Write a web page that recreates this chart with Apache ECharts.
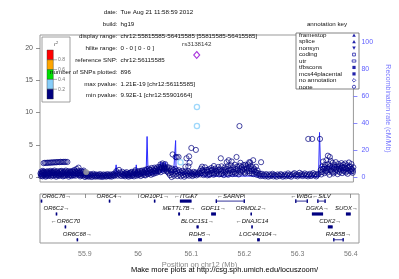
<!DOCTYPE html>
<html><head><meta charset="utf-8">
<script src="https://cdn.jsdelivr.net/npm/echarts@6/dist/echarts.min.js"></script>
<style>html,body{margin:0;padding:0;background:#fff}#c{width:399px;height:279px}</style>
</head><body><div id="c"></div>
<script>
// ---------- axes ----------
const xMin = 55.815585, xMax = 56.415585;
const xTicks = [55.9, 56.0, 56.1, 56.2, 56.3, 56.4];
const pTicks = [0, 5, 10, 15, 20];
const recombTicks = [0, 20, 40, 60, 80, 100];

// ---------- SNPs: [position Mb, -log10 p] ----------
const snpBandLeft = [[55.8165,0.55],[55.8172,0.15],[55.8180,0.85],[55.8188,0.40],[55.8195,0.70],[55.8203,0.10],[55.8211,0.95],[55.8220,0.35],[55.8228,0.60],[55.8236,0.20],[55.8245,0.80],[55.8255,0.45],[55.8265,0.05],[55.8274,0.75],[55.8283,0.30],[55.8293,0.90],[55.8302,0.50],[55.8312,0.15],[55.8322,0.65],[55.8332,0.85],[55.8342,0.25],[55.8352,0.55],[55.8362,0.95],[55.8372,0.10],[55.8382,0.70],[55.8392,0.40],[55.8402,0.80],[55.8413,0.20],[55.8423,0.60],[55.8433,1.00],[55.8444,0.35],[55.8455,0.75],[55.8465,0.05],[55.8476,0.50],[55.8486,0.90],[55.8497,0.30],[55.8508,0.65],[55.8519,0.15],[55.8530,0.85],[55.8541,0.45],[55.8552,0.70],[55.8563,0.25],[55.8574,0.95],[55.8585,0.55],[55.8596,0.10],[55.8607,0.80],[55.8618,0.40],[55.8629,0.65],[55.8640,0.20],[55.8651,1.00],[55.8662,0.50],[55.8673,0.75],[55.8684,0.30],[55.8695,0.90],[55.8706,0.05],[55.8717,0.60],[55.8728,0.85],[55.8739,0.35],[55.8750,0.70],[55.8761,0.15],[55.8772,0.95],[55.8783,0.45],[55.8794,0.80],[55.8805,0.25],[55.8816,1.10],[55.8827,0.55],[55.8838,0.20],[55.8849,0.75],[55.8860,1.25],[55.8871,0.40],[55.8882,0.65],[55.8893,1.45],[55.8904,0.30],[55.8915,0.85],[55.8926,0.10],[55.8937,0.60],[55.8948,0.95],[55.8959,0.35],[55.8970,0.70],[55.8981,0.20],[55.8992,1.00],[55.9003,0.50],[55.9017,0.0035],[55.9025,0.25],[55.9036,0.55],[55.9047,0.15]];
const snpExtraLeft = [[55.8176,0.45],[55.8192,0.25],[55.8207,0.65],[55.8224,0.80],[55.8240,0.40],[55.8259,0.60],[55.8278,0.20],[55.8297,0.70],[55.8317,0.35],[55.8337,0.50],[55.8357,0.75],[55.8377,0.30],[55.8397,0.60],[55.8418,0.85],[55.8438,0.45],[55.8460,0.25],[55.8481,0.70],[55.8502,0.55],[55.8524,0.35],[55.8546,0.90],[55.8568,0.40],[55.8590,0.65],[55.8612,0.20],[55.8634,0.85],[55.8656,0.35],[55.8678,0.60],[55.8700,0.45],[55.8722,0.25],[55.8744,0.80],[55.8766,0.55],[55.8788,0.30],[55.8810,0.70],[55.8832,0.90],[55.8854,0.45],[55.8876,0.95],[55.8898,0.60],[55.8920,0.40],[55.8942,0.25],[55.8964,0.55],[55.8986,0.80],[55.9008,0.35]];
const snpRowLeft = [[55.8225,2.15],[55.8250,2.20],[55.8275,2.18],[55.8300,2.22],[55.8325,2.20],[55.8350,2.25],[55.8375,2.22],[55.8400,2.28],[55.8425,2.25],[55.8450,2.30],[55.8475,2.28],[55.8500,2.32],[55.8525,2.30],[55.8550,2.35],[55.8575,2.32],[55.8600,2.35],[55.8625,2.33],[55.8650,2.35],[55.8680,2.33]];
const snpBandMid = [[55.9060,0.40],[55.9072,0.10],[55.9085,0.30],[55.9098,0.05],[55.9110,0.45],[55.9123,0.20],[55.9136,0.35],[55.9149,0.00],[55.9162,0.25],[55.9175,0.50],[55.9188,0.15],[55.9201,0.30],[55.9214,0.05],[55.9227,0.40],[55.9240,0.20],[55.9253,0.10],[55.9266,0.35],[55.9279,0.25],[55.9292,0.05],[55.9305,0.45],[55.9318,0.15],[55.9331,0.30],[55.9344,0.00],[55.9357,0.20],[55.9370,0.40],[55.9383,0.10],[55.9396,0.25],[55.9409,0.35],[55.9422,0.05],[55.9435,0.20],[55.9448,0.45],[55.9461,0.15],[55.9474,0.30],[55.9487,0.10],[55.9500,0.40],[55.9513,0.20],[55.9526,0.05],[55.9539,0.35],[55.9552,0.25],[55.9565,0.50],[55.9578,0.15],[55.9591,0.30],[55.9604,0.60],[55.9617,0.90],[55.9630,0.40],[55.9643,0.20],[55.9656,0.55],[55.9669,1.10],[55.9682,0.35],[55.9695,0.70],[55.9708,0.15],[55.9721,0.45],[55.9734,0.80],[55.9747,0.30]];
const snpBandCenter = [[55.9760,0.20],[55.9773,0.55],[55.9786,0.10],[55.9799,0.40],[55.9812,0.75],[55.9825,0.25],[55.9838,0.50],[55.9851,0.05],[55.9864,0.35],[55.9877,0.65],[55.9890,0.15],[55.9903,0.45],[55.9916,0.80],[55.9929,0.30],[55.9942,0.55],[55.9955,0.10],[55.9968,0.70],[55.9981,1.05],[55.9994,0.40],[56.0007,0.20],[56.0020,0.60],[56.0033,0.85],[56.0046,0.30],[56.0059,0.50],[56.0072,0.95],[56.0085,0.15],[56.0098,0.65],[56.0111,1.00],[56.0124,0.35],[56.0137,0.80],[56.0150,0.55],[56.0163,1.10],[56.0176,0.25],[56.0189,0.70],[56.0202,1.20],[56.0215,0.45],[56.0228,0.90],[56.0241,1.30],[56.0254,0.60],[56.0267,1.05],[56.0280,0.35],[56.0293,1.40],[56.0306,0.80],[56.0319,1.15],[56.0332,0.50],[56.0345,1.45],[56.0358,0.95],[56.0371,1.25],[56.0384,0.65],[56.0397,1.50],[56.0410,1.10],[56.0423,0.85],[56.0436,1.55],[56.0449,1.30],[56.0462,1.95],[56.0475,1.60],[56.0488,1.40],[56.0501,2.10],[56.0514,1.75],[56.0527,1.50],[56.0540,1.25],[56.0553,2.00],[56.0566,1.35],[56.0579,0.90],[56.0592,1.55]];
const snpExtraCenter = [[55.9767,0.35],[55.9793,0.60],[55.9818,0.45],[55.9844,0.25],[55.9870,0.55],[55.9896,0.70],[55.9922,0.20],[55.9948,0.40],[55.9974,0.85],[56.0000,0.55],[56.0026,0.35],[56.0052,0.70],[56.0078,0.45],[56.0104,0.85],[56.0130,0.60],[56.0156,0.30],[56.0182,0.95],[56.0208,0.70],[56.0234,0.50],[56.0260,1.10],[56.0286,0.75],[56.0312,0.55],[56.0338,1.00],[56.0364,0.70],[56.0390,1.20],[56.0416,0.90],[56.0442,1.05],[56.0468,0.75],[56.0494,1.20],[56.0520,0.95],[56.0546,1.45],[56.0572,1.10],[56.0598,0.80]];
const snpNearRef = [[56.0605,1.20],[56.0618,0.60],[56.0631,1.45],[56.0644,0.30],[56.0657,1.00],[56.0670,0.75],[56.0683,1.30],[56.0696,0.45],[56.0709,1.10],[56.0722,0.20],[56.0735,0.85],[56.0748,1.25],[56.0761,0.50],[56.0774,0.95],[56.0787,0.15],[56.0800,0.70],[56.0813,1.05],[56.0826,0.35],[56.0839,0.80],[56.0852,0.10],[56.0865,0.60],[56.0878,0.95],[56.0891,0.30],[56.0904,0.75],[56.0917,0.05],[56.0930,0.50],[56.0943,0.85],[56.0956,0.25],[56.0969,0.65],[56.0982,0.40],[56.0995,0.90],[56.1008,0.20],[56.1021,0.55],[56.1034,0.75],[56.1047,0.35],[56.1060,0.60],[56.1073,0.15],[56.1086,0.45],[56.1099,0.80],[56.1112,0.30],[56.1125,0.55],[56.1138,0.70],[56.1151,0.25],[56.1164,0.50],[56.1177,0.40],[56.1190,0.65],
  [56.0695,3.50],[56.0752,3.10],[56.0775,3.05],[56.0808,3.10],[56.0940,1.60],[56.0960,2.90],[56.0996,1.65],[56.1010,3.20],[56.1020,2.20],[56.1053,4.50],[56.1140,4.20],[56.0676,0.00]];
const snpRight1 = [[56.1210,0.90],[56.1225,0.40],[56.1240,1.30],[56.1255,0.65],[56.1270,1.10],[56.1285,0.30],[56.1300,0.85],[56.1315,1.50],[56.1330,0.55],[56.1345,1.05],[56.1360,0.25],[56.1375,0.75],[56.1390,1.20],[56.1405,0.45],[56.1420,0.95],[56.1435,1.40],[56.1450,0.60],[56.1465,1.15],[56.1480,0.35],[56.1495,0.80],[56.1510,1.30],[56.1525,0.50],[56.1540,1.00],[56.1555,0.70],[56.1570,1.55],[56.1585,0.40],[56.1600,1.20],[56.1615,0.85],[56.1630,1.65],[56.1645,0.55],[56.1660,1.10],[56.1675,0.30],[56.1690,1.45],[56.1705,0.75],[56.1720,1.25],[56.1735,0.50],[56.1750,1.70],[56.1765,0.95],[56.1780,1.35],[56.1795,0.60],[56.1810,1.80],[56.1825,1.05],[56.1840,0.45],[56.1855,1.50],[56.1870,0.80],[56.1885,1.90],[56.1900,1.20],[56.1915,0.65],[56.1930,1.60],[56.1945,1.00],[56.1960,0.40],[56.1975,1.75],[56.1990,1.25],[56.2005,0.70],[56.2020,1.55],[56.2035,0.95],[56.2050,1.85],[56.2065,1.30],[56.2080,0.55],[56.2095,1.65],[56.2110,1.10],[56.2125,0.85],[56.2140,1.95],[56.2155,1.40],[56.2170,0.60],[56.2185,1.70],[56.2200,1.20],[56.2215,0.90],[56.2230,1.50],[56.2245,0.45],[56.2260,1.25],[56.2275,0.80],[56.2290,1.60],[56.2305,0.35],[56.2320,1.00],[56.2335,0.60],[56.2350,0.25],[56.2365,0.50],[56.2380,0.15],
  [56.1617,2.90],[56.1485,1.70],[56.1730,2.30],[56.1767,2.60],[56.1824,2.40],[56.1918,3.10],[56.1974,7.90],[56.2162,2.30],[56.2388,2.30],[56.2087,1.90],[56.2237,2.60],[56.1353,1.10],[56.1259,1.60],[56.1993,2.20],[56.2181,2.25]];
const snpExtraRight = [[56.1218,0.60],[56.1262,0.95],[56.1308,0.45],[56.1352,0.80],[56.1398,0.30],[56.1442,1.05],[56.1488,0.55],[56.1532,0.85],[56.1578,1.10],[56.1622,0.45],[56.1668,0.80],[56.1712,1.00],[56.1758,0.35],[56.1802,1.15],[56.1848,0.75],[56.1892,0.50],[56.1938,1.30],[56.1982,0.85],[56.2028,1.10],[56.2072,0.75],[56.2118,1.40],[56.2162,0.95],[56.2208,0.55],[56.2252,1.05],[56.2298,0.70],[56.3536,0.75],[56.3572,1.25],[56.3608,1.55],[56.3644,0.95],[56.3680,1.50],[56.3716,1.10],[56.3752,0.75],[56.3788,1.60],[56.3824,1.35],[56.3860,0.95],[56.3896,1.25],[56.3932,1.60],[56.3968,1.10],[56.4004,1.35],[56.4040,0.95],[56.4076,1.60],[56.4112,1.25],[56.4148,0.95]];
const snpLow = [[56.2405,0.50],[56.2425,0.20],[56.2445,0.35],[56.2465,0.10],[56.2485,0.45],[56.2505,0.25],[56.2525,0.05],[56.2545,0.40],[56.2565,0.15],[56.2585,0.30],[56.2605,0.50],[56.2625,0.10],[56.2645,0.35],[56.2665,0.20],[56.2685,0.05],[56.2705,0.40],[56.2725,0.25],[56.2745,0.15],[56.2765,0.45],[56.2785,0.30],[56.2805,0.05],[56.2825,0.20],[56.2845,0.40],[56.2865,0.10],[56.2885,0.30],[56.2905,0.55],[56.2925,0.15],[56.2945,0.35],[56.2965,0.05],[56.2985,0.25],[56.3005,0.45],[56.3025,0.60],[56.3045,0.20],[56.3065,0.40],[56.3085,0.10],[56.3105,0.30],[56.3125,0.65],[56.3145,0.25],[56.3165,0.45],[56.3185,0.15],[56.3205,0.35],[56.3225,0.55],[56.3245,0.20],[56.3265,0.40],[56.3285,0.10],[56.3305,0.30],[56.3325,0.50],[56.3345,0.15],[56.3365,0.35],[56.3385,0.60],[56.3405,0.25],[56.3425,0.45],[56.3445,0.10],[56.3465,0.30],[56.3485,0.50],
  [56.3291,5.90],[56.3366,5.90],[56.3516,5.90]];
const snpRight2 = [[56.3530,1.10],[56.3542,0.40],[56.3554,1.60],[56.3566,0.80],[56.3578,2.40],[56.3590,1.30],[56.3602,0.60],[56.3614,1.90],[56.3626,1.00],[56.3638,2.60],[56.3650,1.40],[56.3662,0.70],[56.3674,2.00],[56.3686,1.20],[56.3698,0.35],[56.3710,1.70],[56.3722,2.50],[56.3734,0.95],[56.3746,1.50],[56.3758,2.20],[56.3770,0.55],[56.3782,1.30],[56.3794,1.85],[56.3806,0.80],[56.3818,2.30],[56.3830,1.10],[56.3842,1.60],[56.3854,0.45],[56.3866,2.00],[56.3878,1.35],[56.3890,0.75],[56.3902,1.75],[56.3914,1.05],[56.3926,2.15],[56.3938,0.60],[56.3950,1.45],[56.3962,1.90],[56.3974,0.90],[56.3986,1.55],[56.3998,2.10],[56.4010,0.70],[56.4022,1.25],[56.4034,1.80],[56.4046,0.50],[56.4058,1.40],[56.4070,2.25],[56.4082,1.00],[56.4094,1.65],[56.4106,0.85],[56.4118,2.00],[56.4130,1.20],[56.4142,0.65],[56.4154,1.50],
  [56.3667,3.30],[56.3704,3.10]];
const snpLightBlue = [[56.1160,10.85],[56.1160,7.90],[56.0846,2.30]];
const snpGray = [[55.9040,0.75]];
const refSnp = [[56.115585,18.92]];
const refSnpName = 'rs3138142';

// ---------- recombination rate: [position Mb, cM/Mb] ----------
const recomb = [[55.8156,1.2],[55.8532,1.5],[55.8908,1.0],[55.9284,1.0],[55.9585,1.5],[55.9614,9],[55.9633,1.5],[55.9980,1.2],[55.9999,9],[56.0018,1.5],[56.0187,2],[56.0206,30],[56.0225,2],[56.0413,3],[56.0469,11],[56.0488,3],[56.0516,11],[56.0535,4],[56.0563,11],[56.0582,5],[56.0713,3],[56.0742,4],[56.0752,27],[56.0761,4],[56.0883,3],[56.1165,2],[56.1297,0.7],[56.2294,0.7],[56.2388,0.3],[56.3488,0.3],[56.3507,33],[56.3526,7.5],[56.3893,7.5],[56.3910,5],[56.4081,5],[56.4137,2]];

// ---------- genes: [start, end, row, name, strand, solid] ----------
const genes = [
 [55.8170,55.8195,0,'OR6C76',1,1],[55.9450,55.9465,0,'OR6C4',1,1],[56.0298,56.0312,0,'OR10P1',1,1],
 [56.0787,56.1006,0,'ITGA7',-1,1],[56.1460,56.2010,0,'SARNP',-1,0],[56.2955,56.3195,0,'WIBG',-1,0],[56.3370,56.3530,0,'SILV',-1,0],
 [55.8452,55.8466,1,'OR6C2',1,1],[56.0755,56.0790,1,'METTL7B',1,1],[56.1375,56.1465,1,'GDF11',1,1],[56.2115,56.2135,1,'ORMDL2',1,1],[56.3270,56.3480,1,'DGKA',1,1],[56.3910,56.4000,1,'SUOX',1,1],
 [55.8620,55.8634,2,'OR6C70',-1,1],[56.1100,56.1140,2,'BLOC1S1',1,1],[56.2130,56.2150,2,'DNAJC14',-1,1],[56.3570,56.3660,2,'CDK2',1,1],
 [55.8845,55.8860,3,'OR6C68',1,1],[56.1130,56.1200,3,'RDH5',1,1],[56.2240,56.2290,3,'LOC440104',1,1],[56.3670,56.3870,3,'RAB5B',1,0]
];

// ---------- text ----------
const metaLabels = ['date','build','display range','hilite range','reference SNP','number of SNPs plotted','max pvalue','min pvalue'];
const metaValues = ['Tue Aug 21 11:58:59 2012','hg19','chr12:55815585-56415585 [55815585-56415585]','0 - 0 [ 0 - 0 ]','chr12:56115585','896','1.21E-19 [chr12:56115585]','9.92E-1 [chr12:55901664]'];
const r2Colors = ['#FF0000','#FFA500','#00E000','#87CEFA','#000080'];
const r2Labels = ['0.8','0.6','0.4','0.2'];
const annoTitle = 'annotation key';
const annoNames = ['framestop','splice','nonsyn','coding','utr','tfbscons','mcs44placental','no annotation','none'];
const annoShapes = ['up','up','down','sqo','reco','sq','sq','dia','cir'];
const xTitle = 'Position on chr12 (Mb)';
const footer = 'Make more plots at http://csg.sph.umich.edu/locuszoom/';
const recombTitle = 'Recombination rate (cM/Mb)';

// ---------- build ----------
const FF = '"Liberation Sans", Arial, Helvetica, sans-serif';
const navy = '#000080';
const geneColor = '#000080';
const geneFont = 'italic 6px ' + FF;
const mctx = document.createElement('canvas').getContext('2d');
mctx.font = geneFont;

function renderGene(params, api) {
  const g = genes[params.dataIndex];
  const cs = params.coordSys;
  const s = api.coord([g[0], g[2] + 0.55]);
  const e = api.coord([g[1], g[2] + 0.55]);
  const y = s[1];
  const w = Math.max(e[0] - s[0], 1.5);
  const ch = [{type:'line', shape:{x1:s[0], y1:y, x2:s[0] + w, y2:y}, style:{stroke:geneColor, lineWidth:0.8}}];
  if (g[5]) {
    ch.push({type:'rect', shape:{x:s[0], y:y - 1.6, width:w, height:3.2}, style:{fill:geneColor}});
  } else {
    ch.push({type:'rect', shape:{x:s[0], y:y - 1.8, width:1.3, height:3.6}, style:{fill:geneColor}});
    ch.push({type:'rect', shape:{x:s[0] + w - 1.3, y:y - 1.8, width:1.3, height:3.6}, style:{fill:geneColor}});
  }
  const label = g[4] > 0 ? g[3] + '\u2192' : '\u2190' + g[3];
  const tw = mctx.measureText(label).width;
  let cx = s[0] + w / 2;
  cx = Math.min(Math.max(cx, cs.x + 2 + tw / 2), cs.x + cs.width - 1 - tw / 2);
  ch.push({type:'text', style:{text:label, x:cx, y:y - 5.2, align:'center', verticalAlign:'middle', font:geneFont, fill:'#111'}});
  return {type:'group', children:ch};
}

const graphics = [];
const metaFont = '6.2px ' + FF;
metaLabels.forEach((l, i) => {
  const y = 12.7 + i * 11.86;
  graphics.push({type:'text', z:50, style:{text:l + ':', x:117.5, y:y, align:'right', verticalAlign:'middle', font:metaFont, fill:'#111'}});
  graphics.push({type:'text', z:50, style:{text:metaValues[i], x:120.5, y:y, align:'left', verticalAlign:'middle', font:metaFont, fill:'#111'}});
});
// r2 legend
graphics.push({type:'rect', z:20, shape:{x:42, y:37, width:28, height:65}, style:{fill:'#fff', stroke:'#888', lineWidth:0.8}});
graphics.push({type:'text', z:21, style:{text:'{a|r}{b|2}', x:56, y:44, align:'center', verticalAlign:'middle', rich:{a:{font:'italic 6px ' + FF, fill:'#555'}, b:{font:'4px ' + FF, fill:'#555', verticalAlign:'top', padding:[0,0,3,0]}}}});
r2Colors.forEach((c, i) => {
  graphics.push({type:'rect', z:21, shape:{x:47, y:50 + i * 9.8, width:6.3, height:9.8}, style:{fill:c, stroke:'#333', lineWidth:0.4}});
});
r2Labels.forEach((t, i) => {
  const y = 59.8 + i * 9.8;
  graphics.push({type:'line', z:21, shape:{x1:53.3, y1:y, x2:57, y2:y}, style:{stroke:'#777', lineWidth:0.6}});
  graphics.push({type:'text', z:21, style:{text:t, x:58, y:y, align:'left', verticalAlign:'middle', font:'5px ' + FF, fill:'#777'}});
});
// annotation key
graphics.push({type:'text', z:50, style:{text:annoTitle, x:327, y:24, align:'center', verticalAlign:'middle', font:metaFont, fill:'#111'}});
graphics.push({type:'rect', z:20, shape:{x:296, y:33, width:63, height:56}, style:{fill:'#fff', stroke:'#666', lineWidth:0.8}});
annoNames.forEach((t, i) => {
  const y = 35.2 + i * 6.45;
  graphics.push({type:'text', z:21, style:{text:t, x:299, y:y, align:'left', verticalAlign:'middle', font:metaFont, fill:'#111'}});
  const sx = 354, sh = annoShapes[i], col = '#2222aa';
  let el;
  if (sh === 'up') el = {type:'polygon', shape:{points:[[sx - 1.8, y + 1.5],[sx + 1.8, y + 1.5],[sx, y - 1.7]]}, style:{fill:col}};
  else if (sh === 'down') el = {type:'polygon', shape:{points:[[sx - 1.8, y - 1.5],[sx + 1.8, y - 1.5],[sx, y + 1.7]]}, style:{fill:col}};
  else if (sh === 'sqo') el = {type:'rect', shape:{x:sx - 1.4, y:y - 1.4, width:2.8, height:2.8}, style:{fill:'none', stroke:col, lineWidth:0.8}};
  else if (sh === 'reco') el = {type:'rect', shape:{x:sx - 1.8, y:y - 1.1, width:3.6, height:2.2}, style:{fill:'none', stroke:col, lineWidth:0.8}};
  else if (sh === 'sq') el = {type:'rect', shape:{x:sx - 1.6, y:y - 1.6, width:3.2, height:3.2}, style:{fill:col}};
  else if (sh === 'dia') el = {type:'polygon', shape:{points:[[sx - 1.8, y],[sx, y - 1.8],[sx + 1.8, y],[sx, y + 1.8]]}, style:{fill:'none', stroke:col, lineWidth:0.8}};
  else el = {type:'circle', shape:{cx:sx, cy:y, r:1.6}, style:{fill:'none', stroke:col, lineWidth:0.8}};
  el.z = 21;
  graphics.push(el);
});
graphics.push({type:'text', z:50, style:{text:footer, x:224.5, y:270, align:'center', verticalAlign:'middle', font:'7.5px ' + FF, fill:'#000'}});

const navyAll = [].concat(snpBandLeft, snpExtraLeft, snpRowLeft, snpBandMid, snpBandCenter, snpExtraCenter, snpNearRef, snpRight1, snpExtraRight, snpLow, snpRight2);
const hollow = (c, bw) => ({color:'rgba(0,0,0,0)', borderColor:c, borderWidth:bw});

const chart = echarts.init(document.getElementById('c'), null, {renderer:'canvas'});
chart.setOption({
  animation:false,
  textStyle:{fontFamily:FF},
  grid:[
    {left:40, top:35, width:319, height:147, show:true, borderColor:'#999', borderWidth:1, backgroundColor:'transparent'},
    {left:40, top:194, width:319, height:49, show:true, borderColor:'#999', borderWidth:1, backgroundColor:'transparent'}
  ],
  xAxis:[
    {gridIndex:0, type:'value', min:xMin, max:xMax, show:false},
    {gridIndex:1, type:'value', min:xMin, max:xMax, splitLine:{show:false},
     axisLine:{show:false},
     axisTick:{show:true, customValues:xTicks, length:4, lineStyle:{color:'#777', width:0.8}},
     axisLabel:{customValues:xTicks, color:'#777', fontSize:7, margin:8},
     name:xTitle, nameLocation:'middle', nameGap:18, nameTextStyle:{color:'#888', fontSize:7.5}}
  ],
  yAxis:[
    {gridIndex:0, type:'value', min:-0.775, max:22.02, splitLine:{show:false}, axisLine:{show:false},
     axisTick:{show:true, customValues:pTicks, length:4, lineStyle:{color:'#777', width:0.8}},
     axisLabel:{customValues:pTicks, color:'#555', fontSize:7, margin:7}},
    {gridIndex:0, type:'value', position:'right', min:-3.70, max:105.2, splitLine:{show:false}, axisLine:{show:false},
     axisTick:{show:true, customValues:recombTicks, length:4, lineStyle:{color:'#6b6bff', width:0.8}},
     axisLabel:{customValues:recombTicks, color:'#6060ff', fontSize:7, margin:8},
     name:recombTitle, nameLocation:'middle', nameRotate:-90, nameGap:21, nameTextStyle:{color:'#7777ff', fontSize:7}},
    {gridIndex:1, type:'value', min:0, max:3.8, inverse:true, show:false}
  ],
  series:[
    {type:'line', xAxisIndex:0, yAxisIndex:1, data:recomb, symbol:'none', z:1, lineStyle:{color:'#2b2bff', width:1}},
    {type:'scatter', xAxisIndex:0, yAxisIndex:0, data:navyAll, symbol:'circle', symbolSize:5.2, z:2, itemStyle:hollow(navy, 0.9)},
    {type:'scatter', xAxisIndex:0, yAxisIndex:0, data:snpGray, symbol:'circle', symbolSize:5.2, z:3, itemStyle:{color:'#aaa', borderColor:'#888', borderWidth:0.8}},
    {type:'scatter', xAxisIndex:0, yAxisIndex:0, data:snpLightBlue, symbol:'circle', symbolSize:5.2, z:3, itemStyle:hollow('#87CEFA', 1.3)},
    {type:'scatter', xAxisIndex:0, yAxisIndex:0, data:refSnp, symbol:'diamond', symbolSize:[6,7], z:4, itemStyle:hollow('#9400D3', 1.1),
     label:{show:true, formatter:refSnpName, position:'top', distance:4, fontSize:6.2, color:'#000'}},
    {type:'custom', xAxisIndex:1, yAxisIndex:2, data:genes.map(g => [g[0], g[2]]), renderItem:renderGene, z:5, clip:false}
  ],
  graphic:graphics
});
</script>
</body></html>
